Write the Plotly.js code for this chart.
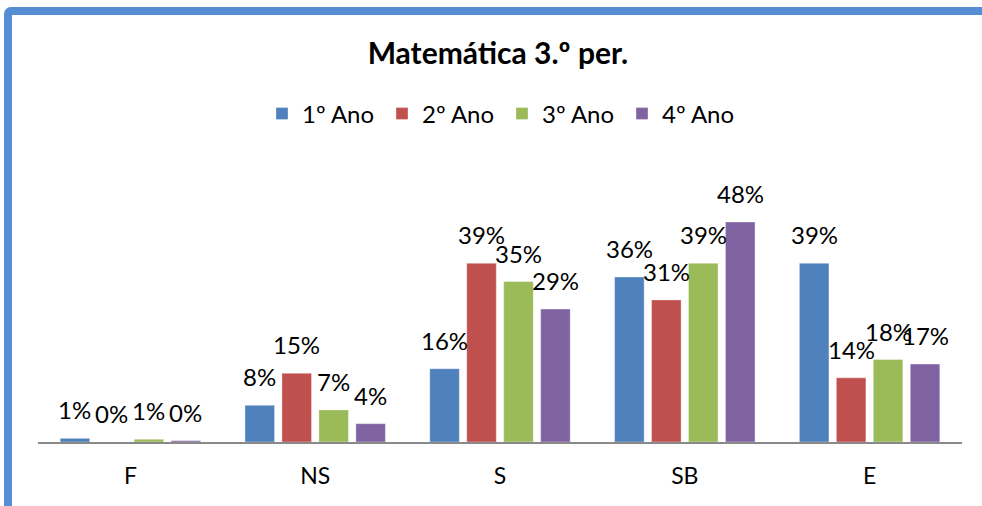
<!DOCTYPE html>
<html>
<head>
<meta charset="utf-8">
<script src="https://cdn.plot.ly/plotly-3.0.1.min.js"></script>
<style>
html,body{margin:0;padding:0;background:#fff;overflow:hidden;width:982px;height:506px;}
#chart{position:absolute;left:0;top:0;width:982px;height:506px;}
#frame{position:absolute;left:4px;top:7px;width:2000px;height:2000px;border:8px solid #558ED5;border-radius:7px;pointer-events:none;box-sizing:border-box;}
</style>
</head>
<body>
<div id="chart"></div>
<div id="frame"></div>
<script>
const categories = ["F", "NS", "S", "SB", "E"];
const seriesNames = ["1º Ano", "2º Ano", "3º Ano", "4º Ano"];
const ano1 = [0.8, 8, 16, 36, 39];
const ano2 = [0, 15, 39, 31, 14];
const ano3 = [0.6, 7, 35, 39, 18];
const ano4 = [0.3, 4, 29, 48, 17];
const colors = ["#4F81BD", "#C0504D", "#9BBB59", "#8064A2"];

const allSeries = [ano1, ano2, ano3, ano4];
const bargap = 0.2;
const nSeries = allSeries.length;
const slot = (1 - bargap) / nSeries;

const traces = allSeries.map((vals, j) => ({
  type: "bar",
  name: seriesNames[j],
  x: categories,
  y: vals,
  marker: {color: colors[j], line: {color: "rgba(255,255,255,0.35)", width: 1}},
  hoverinfo: "none"
}));

const annotations = [];
allSeries.forEach((vals, j) => {
  vals.forEach((v, i) => {
    annotations.push({
      x: i + (j - (nSeries - 1) / 2) * slot,
      y: v,
      xref: "x", yref: "y",
      text: Math.round(v) + "%",
      showarrow: false,
      yanchor: "bottom",
      xanchor: "center",
      yshift: 12,
      font: {family: "Lato, sans-serif", size: 24, color: "#000"}
    });
  });
});

const layout = {
  width: 982, height: 506,
  margin: {l: 38, r: 20, t: 167, b: 64, pad: 0},
  paper_bgcolor: "#fff",
  plot_bgcolor: "#fff",
  barmode: "group",
  bargap: bargap,
  bargroupgap: 0.2,
  showlegend: true,
  title: {
    text: "<b>Matemática 3.º per.</b>",
    font: {family: "Lato, sans-serif", size: 30, color: "#000"},
    x: 0.507, xanchor: "center",
    y: 1 - 53/506, yanchor: "middle", yref: "container"
  },
  legend: {
    orientation: "h",
    xref: "container",
    x: 262/982, xanchor: "left",
    y: 1 - 114/506, yanchor: "middle", yref: "container",
    entrywidth: 75, entrywidthmode: "pixels",
    font: {family: "Lato, sans-serif", size: 24, color: "#000"},
    itemclick: false, itemdoubleclick: false
  },
  xaxis: {
    type: "category",
    showline: true, linecolor: "#898989", linewidth: 1.5,
    ticks: "", showgrid: false, zeroline: false,
    ticklabelstandoff: 13,
    tickfont: {family: "Lato, sans-serif", size: 23, color: "#000"}
  },
  yaxis: {
    range: [0, 60],
    visible: false,
    showgrid: false, zeroline: false
  },
  annotations: annotations
};

Plotly.newPlot("chart", traces, layout, {displayModeBar: false, staticPlot: true});
</script>
</body>
</html>
